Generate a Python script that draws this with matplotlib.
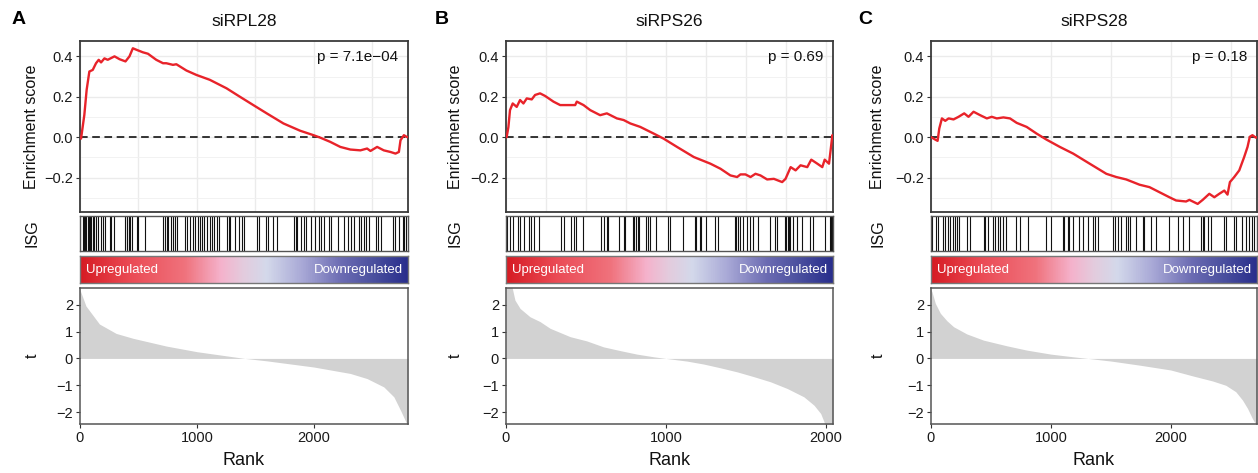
import numpy as np
import matplotlib.pyplot as plt
from matplotlib.colors import LinearSegmentedColormap
from matplotlib.ticker import MultipleLocator, FixedLocator

plt.rcParams['font.family'] = ['Liberation Sans', 'DejaVu Sans']

W, H = 1258, 473

# ---- data ----
titles = ["siRPL28", "siRPS26", "siRPS28"]
letters = ["A", "B", "C"]
pvals = ["p = 7.1e\u221204", "p = 0.69", "p = 0.18"]
n_genes = [2805, 2046, 2720]

# running enrichment score (rank, ES)
es_rank_A = [0, 9, 37, 57, 80, 109, 137, 160, 180, 209, 237, 295, 338, 389, 423, 452, 481, 538, 581,
             652, 710, 738, 795, 824, 910, 996, 1110, 1253, 1368, 1482, 1597, 1740, 1883, 1997, 2054,
             2140, 2226, 2312, 2398, 2455, 2484, 2541, 2598, 2655, 2698, 2727, 2741, 2770, 2793, 2805]
es_val_A = [0.0, -0.007, 0.11, 0.235, 0.325, 0.333, 0.366, 0.383, 0.37, 0.39, 0.383, 0.40, 0.386, 0.375,
            0.40, 0.44, 0.433, 0.42, 0.413, 0.383, 0.366, 0.366, 0.358, 0.361, 0.33, 0.308, 0.284, 0.242,
            0.20, 0.159, 0.118, 0.068, 0.032, 0.01, -0.002, -0.023, -0.048, -0.061, -0.065, -0.056,
            -0.068, -0.048, -0.065, -0.073, -0.081, -0.073, -0.015, 0.01, 0.002, 0.0]

es_rank_B = [0, 4, 15, 25, 42, 67, 88, 109, 130, 161, 182, 213, 245, 297, 339, 380, 433, 443, 485, 527,
             589, 631, 694, 736, 778, 840, 924, 986, 1070, 1175, 1279, 1342, 1404, 1446, 1467, 1498,
             1530, 1561, 1592, 1634, 1676, 1728, 1749, 1781, 1812, 1843, 1885, 1910, 1948, 1979, 1994,
             2021, 2031, 2042, 2046]
es_val_B = [0.0, 0.0, 0.05, 0.134, 0.167, 0.15, 0.184, 0.167, 0.192, 0.187, 0.209, 0.217, 0.204, 0.176,
            0.159, 0.159, 0.159, 0.176, 0.159, 0.134, 0.109, 0.118, 0.093, 0.085, 0.068, 0.051, 0.018,
            -0.007, -0.048, -0.098, -0.131, -0.156, -0.189, -0.197, -0.184, -0.184, -0.197, -0.181,
            -0.189, -0.209, -0.206, -0.222, -0.206, -0.148, -0.164, -0.139, -0.148, -0.111, -0.131,
            -0.148, -0.111, -0.131, -0.065, 0.01, 0.0]

es_rank_C = [0, 8, 36, 55, 69, 91, 119, 147, 188, 230, 277, 313, 355, 410, 466, 507, 549, 604, 659, 715,
             798, 881, 964, 1075, 1186, 1324, 1463, 1546, 1629, 1685, 1740, 1823, 1906, 1989, 2045, 2128,
             2156, 2225, 2267, 2322, 2364, 2405, 2447, 2474, 2494, 2530, 2572, 2613, 2641, 2660, 2682,
             2710, 2720]
es_val_C = [0.0, -0.002, -0.012, -0.018, 0.043, 0.093, 0.081, 0.093, 0.088, 0.101, 0.118, 0.101, 0.126,
            0.109, 0.093, 0.101, 0.093, 0.098, 0.093, 0.071, 0.051, 0.018, -0.012, -0.048, -0.081,
            -0.131, -0.181, -0.197, -0.209, -0.222, -0.235, -0.247, -0.272, -0.297, -0.313, -0.318,
            -0.31, -0.33, -0.31, -0.28, -0.297, -0.28, -0.264, -0.284, -0.222, -0.197, -0.164, -0.098,
            -0.048, 0.002, 0.01, -0.002, 0.0]

# ISG hit positions (rank)
hits_A = [26, 34, 46, 54, 69, 77, 86, 97, 112, 120, 140, 154, 177, 197, 212, 255, 269, 292, 383, 398,
          406, 415, 426, 441, 484, 498, 555, 712, 727, 741, 755, 778, 798, 813, 827, 898, 913, 941,
          970, 984, 1013, 1027, 1041, 1064, 1084, 1113, 1127, 1142, 1170, 1185, 1256, 1270, 1285, 1328,
          1356, 1385, 1402, 1517, 1531, 1588, 1608, 1654, 1682, 1831, 1845, 1860, 1888, 1917, 1931,
          1974, 2009, 2046, 2060, 2083, 2132, 2146, 2203, 2260, 2289, 2318, 2346, 2389, 2403, 2432,
          2446, 2475, 2532, 2546, 2575, 2676, 2690, 2732, 2761, 2775, 2790]
hits_B = [8, 25, 46, 75, 88, 113, 144, 155, 176, 207, 343, 364, 405, 426, 437, 479, 594, 614, 635, 641,
          708, 736, 744, 792, 803, 813, 823, 834, 876, 886, 903, 938, 1011, 1024, 1108, 1181, 1187,
          1212, 1223, 1254, 1306, 1327, 1432, 1442, 1453, 1467, 1480, 1505, 1526, 1547, 1578, 1651,
          1682, 1693, 1745, 1755, 1762, 1768, 1776, 1797, 1818, 1850, 1902, 1923, 1996, 2027, 2036, 2042]
hits_C = [11, 38, 55, 102, 116, 144, 158, 185, 199, 221, 233, 304, 324, 443, 454, 476, 518, 532, 559,
          573, 601, 629, 712, 740, 809, 961, 1003, 1100, 1108, 1141, 1155, 1183, 1238, 1266, 1308,
          1349, 1366, 1393, 1518, 1532, 1559, 1588, 1629, 1643, 1657, 1712, 1767, 1781, 1837, 1879,
          1989, 2058, 2100, 2155, 2253, 2266, 2280, 2308, 2336, 2446, 2460, 2530, 2543, 2599, 2627,
          2654, 2682, 2696]

# ranked t statistic (rank, t)
t_rank_A = [0, 51, 166, 309, 452, 738, 1000, 1310, 1410, 1597, 2000, 2312, 2455, 2598, 2684, 2741, 2793, 2805]
t_val_A = [2.55, 1.95, 1.28, 0.93, 0.75, 0.46, 0.25, 0.06, 0.0, -0.09, -0.32, -0.56, -0.75, -1.06,
           -1.43, -1.93, -2.42, -2.6]
t_rank_B = [0, 36, 56, 88, 150, 213, 276, 401, 506, 610, 715, 819, 924, 1001, 1133, 1237, 1342, 1446,
            1551, 1655, 1760, 1864, 1927, 1969, 1990, 2000, 2046]
t_val_B = [2.7, 2.7, 2.17, 1.86, 1.55, 1.37, 1.12, 0.81, 0.65, 0.43, 0.29, 0.16, 0.06, 0.0, -0.1, -0.21,
           -0.35, -0.5, -0.68, -0.87, -1.12, -1.43, -1.74, -2.05, -2.36, -2.6, -2.6]
t_rank_C = [0, 8, 36, 78, 133, 188, 299, 438, 632, 798, 1000, 1186, 1311, 1505, 1740, 2000, 2183, 2350,
            2460, 2543, 2599, 2641, 2682, 2710, 2720]
t_val_C = [2.55, 2.48, 2.05, 1.68, 1.4, 1.18, 0.91, 0.68, 0.47, 0.31, 0.16, 0.06, 0.0, -0.1, -0.25,
           -0.43, -0.65, -0.84, -1.0, -1.24, -1.55, -1.86, -2.24, -2.45, -2.55]

es_ranks = [es_rank_A, es_rank_B, es_rank_C]
es_vals = [es_val_A, es_val_B, es_val_C]
hits = [hits_A, hits_B, hits_C]
t_ranks = [t_rank_A, t_rank_B, t_rank_C]
t_vals = [t_val_A, t_val_B, t_val_C]
grid_step = [500, 250, 500]

# ---- layout (pixels) ----
cols = [(80, 408), (506, 833), (931, 1257)]
lab_x = [32, 455, 878]
rows = {"es": (41, 212), "isg": (216, 251), "cb": (256, 283), "t": (288, 424)}

cmap = LinearSegmentedColormap.from_list("updown", [
    (0.0, (0.84, 0.11, 0.14)), (0.15, (0.92, 0.29, 0.33)), (0.32, (0.94, 0.45, 0.49)),
    (0.43, (0.96, 0.70, 0.80)), (0.50, (0.89, 0.80, 0.87)), (0.57, (0.83, 0.85, 0.92)),
    (0.68, (0.66, 0.66, 0.84)), (0.80, (0.42, 0.42, 0.70)), (0.90, (0.29, 0.31, 0.62)),
    (1.0, (0.16, 0.18, 0.55))])


def box(l, r, t, b):
    return [l / W, 1 - b / H, (r - l) / W, (b - t) / H]


def style_frame(ax, color, lw):
    for s in ax.spines.values():
        s.set_color(color)
        s.set_linewidth(lw)


fig = plt.figure(figsize=(W / 100, H / 100), dpi=100)

for i in range(3):
    l, r = cols[i]
    N = n_genes[i]

    def lab(ax, text, size):
        x = (lab_x[i] - l) / (r - l)
        ax.set_ylabel(text, fontsize=size, va="center", color="#111111")
        ax.yaxis.set_label_coords(x, 0.5)

    # enrichment score
    ax = fig.add_axes(box(l, r, *rows["es"]))
    ax.plot(es_ranks[i], es_vals[i], color="#E8232A", lw=1.7, zorder=3)
    ax.axhline(0, color="black", lw=1.1, ls=(0, (5, 3)), zorder=2)
    ax.set_xlim(0, N)
    ax.set_ylim(-0.37, 0.476)
    ax.yaxis.set_major_locator(FixedLocator([-0.2, 0.0, 0.2, 0.4]))
    ax.yaxis.set_minor_locator(FixedLocator([-0.3, -0.1, 0.1, 0.3]))
    ax.xaxis.set_major_locator(MultipleLocator(grid_step[i]))
    ax.yaxis.set_major_formatter(plt.FuncFormatter(lambda v, p: f"{v:.1f}".replace("-", "\u2212")))
    ax.grid(which="major", color="#EBEBEB", lw=1.0)
    ax.grid(which="minor", axis="y", color="#F0F0F0", lw=0.6)
    ax.set_axisbelow(True)
    ax.tick_params(which="both", bottom=False, labelbottom=False)
    ax.tick_params(which="minor", left=False)
    ax.tick_params(axis="y", labelsize=10.5, length=3, color="#333333", labelcolor="#1A1A1A", pad=2)
    style_frame(ax, "#3A3A3A", 1.3)
    ax.set_title(titles[i], fontsize=12.5, pad=11, color="#111111")
    ax.text(0.97, 0.905, pvals[i], transform=ax.transAxes, ha="right", va="center",
            fontsize=11, color="#111111")
    lab(ax, "Enrichment score", 11.5)
    fig.text((lab_x[i] - 13) / W, 1 - 20 / H, letters[i], fontsize=14, fontweight="bold",
             ha="center", va="center")

    # ISG barcode
    ax = fig.add_axes(box(l, r, *rows["isg"]))
    ax.vlines(hits[i], 0, 1, color="#111111", lw=0.8)
    ax.set_xlim(0, N)
    ax.set_ylim(0, 1)
    ax.set_xticks([])
    ax.set_yticks([])
    style_frame(ax, "#555555", 1.0)
    lab(ax, "ISG", 11.5)

    # colour bar
    ax = fig.add_axes(box(l, r, *rows["cb"]))
    ax.imshow(np.linspace(0, 1, 400)[None, :], aspect="auto", cmap=cmap, extent=[0, N, 0, 1])
    ax.set_xlim(0, N)
    ax.set_ylim(0, 1)
    ax.set_xticks([])
    ax.set_yticks([])
    style_frame(ax, "#777777", 1.0)
    ax.text(0.018, 0.5, "Upregulated", transform=ax.transAxes, color="white", fontsize=9.5,
            ha="left", va="center")
    ax.text(0.985, 0.5, "Downregulated", transform=ax.transAxes, color="white", fontsize=9.5,
            ha="right", va="center")

    # ranked t
    ax = fig.add_axes(box(l, r, *rows["t"]))
    ax.fill_between(t_ranks[i], t_vals[i], 0, color="#D2D2D2", lw=0)
    ax.set_xlim(0, N)
    ax.set_ylim(-2.44, 2.62)
    ax.set_yticks([-2, -1, 0, 1, 2])
    ax.set_xticks([0, 1000, 2000])
    ax.yaxis.set_major_formatter(plt.FuncFormatter(lambda v, p: f"{v:.0f}".replace("-", "\u2212")))
    ax.tick_params(labelsize=10.5, length=3, color="#333333", labelcolor="#1A1A1A", pad=2)
    style_frame(ax, "#555555", 1.1)
    ax.set_xlabel("Rank", fontsize=13, labelpad=5, color="#111111")
    lab(ax, "t", 11.5)

fig.savefig("out.png", dpi=100)
